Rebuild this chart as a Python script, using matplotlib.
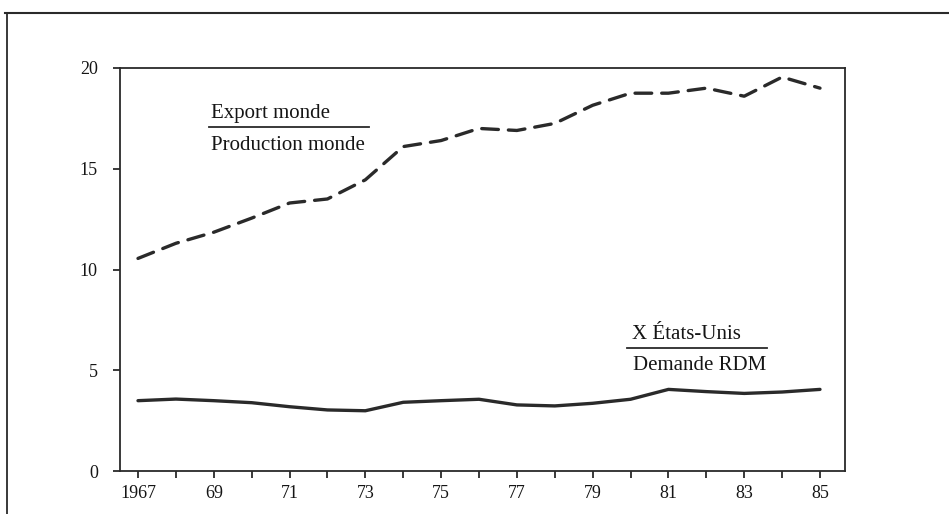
"""Export monde / Production monde vs X Etats-Unis / Demande RDM, 1967-85."""

import matplotlib

matplotlib.use("Agg")
import matplotlib.pyplot as plt
from matplotlib.lines import Line2D

plt.rcParams["font.family"] = ["Liberation Serif", "DejaVu Serif"]

years = list(range(1967, 1986))
export_share = [10.55, 11.3, 11.85, 12.55, 13.3, 13.5, 14.45, 16.1, 16.4, 17.0,
                16.9, 17.25, 18.15, 18.75, 18.75, 19.0, 18.6, 19.55, 19.0]
us_share = [3.49, 3.57, 3.49, 3.39, 3.19, 3.03, 2.99, 3.41, 3.49, 3.56,
            3.28, 3.23, 3.36, 3.56, 4.05, 3.94, 3.85, 3.92, 4.05]
major_years = list(range(1967, 1986, 2))
major_labels = ["1967"] + [str(y)[2:] for y in major_years[1:]]
y_ticks = [0, 5, 10, 15, 20]

fig = plt.figure(figsize=(9.49, 5.14), dpi=100)
ax = fig.add_axes([120 / 949, 43 / 514, 725 / 949, 403 / 514])

ink = "#2a2a2a"
text_color = "#151515"
ax.plot(years, export_share, color=ink, lw=2.4, ls=(0, (5, 3)),
        dash_capstyle="round")
ax.plot(years, us_share, color=ink, lw=2.4, solid_capstyle="round")

ax.set_xlim(1966.525, 1985.66)
ax.set_ylim(0, 20)
ax.set_xticks(major_years)
ax.set_xticklabels(major_labels)
ax.set_xticks([y for y in years if y not in major_years], minor=True)
ax.set_yticks(y_ticks)
ax.tick_params(axis="both", which="both", direction="out", length=5,
               width=1.3, color=ink, labelsize=13, labelcolor=text_color)
ax.tick_params(axis="y", pad=11)
ax.tick_params(axis="x", pad=5)
for spine in ax.spines.values():
    spine.set_color(ink)
    spine.set_linewidth(1.3)

# fraction-style labels
ax.text(1968.93, 17.52, "Export monde", fontsize=15, color=text_color,
        va="baseline", ha="left")
ax.plot([1968.87, 1973.10], [17.07, 17.07], color=ink, lw=1.3)
ax.text(1968.93, 15.93, "Production monde", fontsize=15, color=text_color,
        va="baseline", ha="left")

ax.text(1980.04, 6.55, "X États-Unis", fontsize=15, color=text_color,
        va="baseline", ha="left")
ax.plot([1979.91, 1983.6], [6.10, 6.10], color=ink, lw=1.3)
ax.text(1980.06, 5.01, "Demande RDM", fontsize=15, color=text_color,
        va="baseline", ha="left")

# outer frame of the scanned page
fig.add_artist(Line2D([5 / 949, 1.0], [1 - 13 / 514, 1 - 13 / 514],
                      transform=fig.transFigure, color=ink, lw=1.5))
fig.add_artist(Line2D([7 / 949, 7 / 949], [0.0, 1 - 13 / 514],
                      transform=fig.transFigure, color=ink, lw=1.3))

fig.savefig("out.png", dpi=100)
plt.close(fig)
